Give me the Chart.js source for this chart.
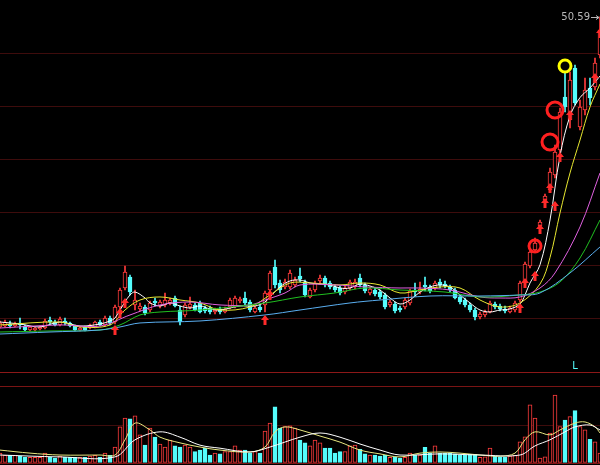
<!DOCTYPE html>
<html>
<head>
<meta charset="utf-8">
<script src="https://cdn.jsdelivr.net/npm/chart.js@4.4.0/dist/chart.umd.min.js"></script>
<style>
html, body { margin: 0; padding: 0; background: #000; }
#kline { display: block; }
</style>
</head>
<body>
<canvas id="kline" width="600" height="465"></canvas>
<script>
// PRICE DATA (one candle per day)
const openP = [
  11.83, 11.95, 12.2, 11.95, 12.33, 11.95, 11.45, 11.45, 11.58, 11.7,
  12.7, 12.45, 12.08, 12.58, 12.33, 11.95, 11.45, 11.83, 11.7, 11.83,
  12.45, 12.08, 12.95, 12.45, 14.33, 16.7, 18.08, 14.58, 14.08, 14.33,
  13.95, 15.08, 14.45, 14.58, 14.83, 15.45, 13.95, 13.33, 14.33, 14.58,
  14.83, 14.2, 14.2, 13.7, 14.08, 13.7, 14.33, 14.33, 15.08, 15.45,
  14.95, 13.7, 14.33, 14.58, 16.45, 19.33, 17.33, 16.83, 16.83, 17.08,
  18.2, 17.45, 15.58, 16.45, 17.58, 17.95, 17.33, 16.83, 16.7, 16.2,
  16.7, 16.83, 17.95, 17.08, 16.08, 16.45, 16.2, 15.83, 14.58, 14.7,
  14.2, 14.33, 14.83, 16.45, 16.2, 17.08, 16.83, 16.7, 17.45, 17.2,
  16.83, 16.45, 15.58, 15.2, 14.58, 13.95, 13.08, 13.33, 13.7, 14.7,
  14.45, 14.08, 13.7, 13.95, 15.2, 17.33, 19.45, 21.45, 24.45, 27.7,
  28.95, 30.83, 33.95, 40.58, 37.7, 44.2, 36.83, 38.95, 41.7, 41.83,
  45.83
];
const highP = [
  12.58, 12.7, 12.58, 12.45, 12.95, 12.08, 11.95, 11.83, 11.95, 12.83,
  13.08, 12.7, 13.08, 12.95, 12.45, 12.08, 11.83, 11.95, 12.2, 12.58,
  12.7, 13.2, 13.2, 14.58, 16.7, 19.45, 18.33, 16.45, 14.83, 14.58,
  15.08, 15.45, 15.2, 16.08, 15.45, 15.7, 14.45, 14.83, 15.58, 14.83,
  15.08, 14.45, 14.45, 14.2, 14.33, 14.33, 15.45, 15.7, 15.58, 16.2,
  15.2, 14.45, 14.58, 16.33, 18.83, 20.2, 17.7, 17.83, 18.95, 18.08,
  19.2, 17.7, 16.7, 17.58, 18.33, 18.2, 17.58, 17.08, 16.95, 16.95,
  17.7, 17.83, 18.45, 17.33, 16.83, 16.7, 16.45, 16.08, 15.2, 14.95,
  14.45, 15.45, 16.58, 17.33, 17.45, 18.08, 17.08, 17.58, 17.83, 17.58,
  17.08, 16.7, 15.83, 15.45, 14.83, 14.2, 13.7, 13.95, 15.08, 14.95,
  14.7, 14.45, 14.45, 15.08, 17.58, 19.95, 21.45, 22.95, 25.2, 28.45,
  31.7, 34.58, 39.2, 43.7, 43.7, 44.58, 40.2, 42.95, 42.95, 45.45,
  50.59
];
const lowP = [
  11.7, 11.83, 11.7, 11.83, 11.58, 11.33, 11.33, 11.33, 11.45, 11.58,
  12.2, 11.95, 11.95, 12.08, 11.83, 11.33, 11.33, 11.33, 11.58, 11.7,
  11.95, 11.95, 12.08, 12.2, 14.08, 16.45, 15.83, 13.95, 13.83, 13.33,
  13.7, 14.45, 14.2, 14.33, 14.58, 14.33, 12.08, 13.08, 14.08, 13.83,
  13.58, 13.58, 13.45, 13.45, 13.45, 13.58, 14.08, 14.2, 14.83, 14.58,
  13.7, 13.58, 13.7, 13.7, 16.08, 16.7, 16.08, 16.58, 16.58, 16.83,
  17.45, 15.58, 15.45, 16.2, 17.2, 16.83, 16.58, 16.2, 15.83, 15.95,
  16.45, 16.58, 16.83, 16.08, 15.83, 15.7, 15.33, 14.08, 14.33, 13.58,
  13.7, 14.08, 14.58, 15.7, 15.95, 16.33, 16.08, 16.45, 16.7, 16.7,
  16.2, 15.33, 14.7, 14.33, 13.7, 12.7, 12.83, 13.08, 13.58, 14.08,
  13.83, 13.58, 13.58, 13.7, 14.95, 17.08, 19.2, 21.2, 24.2, 27.45,
  28.7, 30.45, 33.33, 38.7, 36.7, 39.58, 36.45, 38.33, 39.58, 41.45,
  45.45
];
const closeP = [
  12.33, 12.45, 11.95, 12.2, 12.08, 11.45, 11.83, 11.7, 11.83, 12.58,
  12.45, 12.08, 12.83, 12.33, 11.95, 11.45, 11.7, 11.45, 12.08, 12.45,
  12.08, 12.95, 12.33, 14.33, 16.45, 18.7, 16.2, 15.2, 14.45, 13.58,
  14.83, 14.83, 14.95, 15.2, 15.2, 14.45, 12.45, 14.58, 14.7, 13.95,
  13.7, 13.83, 13.7, 13.95, 13.7, 14.08, 15.2, 15.45, 15.33, 14.83,
  13.95, 14.2, 13.95, 16.08, 18.58, 17.08, 16.45, 17.45, 18.58, 17.7,
  17.83, 15.83, 16.45, 17.33, 17.95, 17.08, 16.83, 16.45, 16.08, 16.7,
  17.45, 17.45, 17.08, 16.33, 16.58, 15.95, 15.58, 14.33, 14.95, 13.83,
  13.95, 15.2, 16.33, 16.2, 16.58, 16.83, 16.33, 17.33, 17.08, 16.95,
  16.45, 15.45, 14.95, 14.58, 13.95, 13.08, 13.45, 13.7, 14.83, 14.33,
  14.08, 13.83, 14.2, 14.83, 17.33, 19.7, 21.2, 22.33, 24.95, 28.2,
  31.2, 33.7, 38.7, 39.33, 42.7, 39.83, 39.33, 41.45, 40.45, 44.83,
  48.95
];
// VOLUME (one unit = one volume grid step)
const volume = [
  0.26, 0.2, 0.2, 0.2, 0.18, 0.15, 0.15, 0.15, 0.15, 0.26,
  0.15, 0.13, 0.18, 0.15, 0.15, 0.15, 0.15, 0.15, 0.18, 0.2,
  0.15, 0.26, 0.2, 0.42, 0.95, 1.18, 1.16, 1.24, 0.74, 0.47,
  0.92, 0.68, 0.5, 0.42, 0.6, 0.45, 0.42, 0.47, 0.42, 0.3,
  0.34, 0.39, 0.21, 0.26, 0.24, 0.3, 0.3, 0.45, 0.34, 0.34,
  0.27, 0.3, 0.26, 0.84, 1.05, 1.48, 0.92, 0.96, 0.98, 0.92,
  0.6, 0.53, 0.45, 0.6, 0.53, 0.39, 0.39, 0.26, 0.3, 0.3,
  0.45, 0.47, 0.36, 0.24, 0.21, 0.21, 0.18, 0.21, 0.15, 0.15,
  0.12, 0.15, 0.26, 0.21, 0.21, 0.41, 0.26, 0.45, 0.26, 0.26,
  0.26, 0.24, 0.21, 0.21, 0.23, 0.23, 0.15, 0.16, 0.39, 0.18,
  0.16, 0.15, 0.18, 0.2, 0.56, 0.69, 1.53, 1.18, 0.13, 0.16,
  0.79, 1.79, 0.96, 1.13, 1.22, 1.38, 0.96, 0.87, 0.62, 0.56,
  0.26
];

// MOVING AVERAGES [day, value]
const ma5 = [[0,12.45],[4,12.2],[8,11.83],[12,12.45],[16,11.95],[20,12.2],[22,12.58],[23,12.95],[24,13.95],[25,14.95],[26,15.83],[27,16.2],[29,15.45],[30,14.83],[32,14.45],[34,14.83],[36,14.45],[38,14.2],[40,14.45],[42,14.08],[44,13.95],[48,14.45],[51,14.45],[53,14.95],[54,15.58],[56,16.83],[58,17.58],[60,17.7],[62,17.33],[64,17.2],[66,17.08],[68,16.7],[70,16.7],[72,17.2],[74,16.95],[76,16.45],[78,15.45],[80,14.7],[82,15.2],[84,16.2],[86,16.83],[88,17.08],[90,16.83],[92,15.83],[94,14.83],[96,13.95],[98,13.7],[100,13.95],[102,14.08],[104,14.7],[105,15.83],[106,17.33],[108,19.6],[110,25.2],[112,33.2],[114,38.2],[116,40.5],[118,41.7],[120,43.2]];
const ma10 = [[0,12.08],[12,12.45],[16,11.83],[22,12.08],[25,13.95],[28,15.2],[32,15.58],[36,15.2],[40,14.83],[44,13.95],[50,14.33],[54,15.83],[58,17.33],[62,17.33],[68,17.08],[72,17.33],[76,17.08],[80,16.08],[84,16.45],[88,16.83],[92,16.7],[96,15.2],[100,14.33],[104,14.83],[108,17.2],[110,20.5],[112,26.08],[114,31.08],[116,35.2],[118,39.33],[120,42.2]];
const ma20 = [[0,11.7],[12,12.08],[20,11.95],[26,13.33],[32,14.58],[38,14.95],[44,14.58],[50,14.58],[53,15.2],[57,16.08],[60,17.08],[67,17.08],[73,16.83],[80,16.7],[84,16.7],[90,16.45],[96,15.58],[100,15.45],[104,15.58],[108,16.7],[111,18.58],[116,24.33],[120,31.08]];
const ma30 = [[0,11.2],[10,11.33],[20,11.45],[24,12.08],[28,13.33],[32,13.7],[40,13.95],[53,14.83],[60,15.58],[67,16.08],[73,16.7],[80,16.45],[89,16.2],[96,15.58],[104,15.83],[108,16.2],[112,17.45],[116,20.45],[120,25.2]];
const ma60 = [[0,10.95],[10,11.2],[20,11.45],[24,11.83],[28,12.33],[40,12.58],[53,13.33],[60,13.95],[70,14.83],[76,15.2],[86,15.7],[96,15.7],[104,15.83],[108,16.08],[114,18.58],[120,21.83]];
const volMa5 = [[0,0.34],[6,0.26],[12,0.21],[20,0.21],[23,0.21],[25,0.61],[27,1.05],[30,0.87],[32,0.68],[36,0.53],[40,0.42],[44,0.34],[50,0.29],[53,0.42],[55,0.82],[57,0.95],[60,0.87],[64,0.71],[68,0.55],[72,0.34],[76,0.24],[80,0.16],[84,0.26],[88,0.29],[92,0.26],[96,0.21],[100,0.18],[103,0.26],[105,0.61],[107,0.82],[110,0.74],[112,0.87],[115,1.05],[117,1.08],[119,0.95],[120,0.79]];
const volMa10 = [[0,0.21],[12,0.16],[23,0.16],[27,0.61],[32,0.82],[36,0.68],[40,0.47],[44,0.39],[50,0.29],[54,0.42],[60,0.68],[64,0.79],[68,0.68],[72,0.5],[76,0.34],[80,0.21],[88,0.24],[96,0.21],[104,0.21],[107,0.45],[110,0.61],[113,0.82],[115,0.95],[118,1.0],[120,0.87]];

// SIGNALS
const arrowDay = [23, 24, 25, 53, 54, 104, 105, 107, 108, 109, 110, 111, 112, 114, 119, 120];
const arrowVal = [11.45, 13.58, 14.83, 12.7, 15.83, 14.2, 17.33, 18.2, 24.08, 27.33, 29.2, 26.95, 33.08, 38.33, 42.95, 48.58];
const redRingDay = [107, 110, 111];
const redRingVal = [21.95, 34.95, 38.95];
const yellowRingDay = [113];
const yellowRingVal = [44.45];

// GRID
const priceGrid = [46.06, 39.41, 32.77, 26.13, 19.49, 12.84];
const priceDivider = 6.2;
const volumeGrid = [0, 1, 2];

const UP = '#ff3c3c';
const DOWN = '#54fcfc';

const days = closeP.map((_, i) => i);
const isUp = days.map(i => closeP[i] >= openP[i]);
const toPoints = arr => arr.map(p => ({ x: p[0], y: p[1] }));

function makeArrow(color) {
  const c = document.createElement('canvas');
  c.width = 8; c.height = 10;
  const g = c.getContext('2d');
  g.fillStyle = color;
  g.beginPath();
  g.moveTo(4, 0); g.lineTo(8, 5); g.lineTo(5.5, 5); g.lineTo(5.5, 10);
  g.lineTo(2.5, 10); g.lineTo(2.5, 5); g.lineTo(0, 5);
  g.closePath();
  g.fill();
  return c;
}

function maLine(points, color, axis) {
  return {
    type: 'line', yAxisID: axis || 'y',
    data: toPoints(points),
    borderColor: color, borderWidth: 1,
    pointRadius: 0, tension: 0.35, order: 1
  };
}

// max price label and the "L" mark
const labelPlugin = {
  id: 'labelPlugin',
  afterDatasetsDraw(chart) {
    const { ctx, scales } = chart;
    const top = Math.max(...highP);
    const ti = highP.indexOf(top);
    const px = scales.x.getPixelForValue(ti);
    const py = Math.round(scales.y.getPixelForValue(top)) + 0.5;
    ctx.save();
    ctx.font = '10px "DejaVu Sans", sans-serif';
    ctx.fillStyle = '#b8b8b8';
    ctx.textAlign = 'right';
    ctx.textBaseline = 'middle';
    ctx.fillText(top.toFixed(2), px - 10, py);
    ctx.strokeStyle = '#b8b8b8';
    ctx.lineWidth = 1;
    ctx.beginPath();
    ctx.moveTo(px - 9, py); ctx.lineTo(px - 1, py);
    ctx.moveTo(px - 4, py - 2); ctx.lineTo(px - 1, py); ctx.lineTo(px - 4, py + 2);
    ctx.stroke();

    ctx.fillStyle = DOWN;
    ctx.textAlign = 'center';
    ctx.fillText('L', scales.x.getPixelForValue(115), scales.y.getPixelForValue(6.95));
    ctx.restore();
  }
};

const hiddenAxis = {
  ticks: { display: false },
  border: { display: false },
  afterFit: s => { s.width = 0; }
};

new Chart(document.getElementById('kline'), {
  type: 'bar',
  data: {
    datasets: [
      {
        label: 'wick', yAxisID: 'y',
        data: days.map(i => ({ x: i, y: [lowP[i], highP[i]] })),
        backgroundColor: days.map(i => isUp[i] ? UP : DOWN),
        barThickness: 1, grouped: false, order: 6
      },
      {
        label: 'body', yAxisID: 'y',
        data: days.map(i => ({ x: i, y: [openP[i], closeP[i]] })),
        backgroundColor: days.map(i => isUp[i] ? '#000' : DOWN),
        borderColor: days.map(i => isUp[i] ? UP : DOWN),
        borderWidth: 1, borderSkipped: false, minBarLength: 1,
        barThickness: 4, grouped: false, order: 5
      },
      {
        label: 'volume', yAxisID: 'yv',
        data: days.map(i => ({ x: i, y: volume[i] })),
        backgroundColor: days.map(i => isUp[i] ? '#000' : DOWN),
        borderColor: days.map(i => isUp[i] ? UP : DOWN),
        borderWidth: 1, borderSkipped: false,
        barThickness: 4, grouped: false, order: 5
      },
      maLine(ma60, '#5aaef0'),
      maLine(ma30, '#20c020'),
      maLine(ma20, '#e060e0'),
      maLine(ma10, '#e8e830'),
      maLine(ma5, '#ffffff'),
      maLine(volMa10, '#ffffff', 'yv'),
      maLine(volMa5, '#e8e880', 'yv'),
      {
        type: 'line', showLine: false, yAxisID: 'y',
        data: arrowDay.map((d, k) => ({ x: d, y: arrowVal[k] })),
        pointStyle: makeArrow('#ff2a2a'), pointRadius: 5, order: 0
      },
      {
        type: 'line', showLine: false, yAxisID: 'y',
        data: redRingDay.map((d, k) => ({ x: d, y: redRingVal[k] })),
        pointStyle: 'circle', pointRadius: [6, 8, 8], pointBorderWidth: 3,
        pointBorderColor: '#ff2020', pointBackgroundColor: 'rgba(0,0,0,0)', order: 0
      },
      {
        type: 'line', showLine: false, yAxisID: 'y',
        data: yellowRingDay.map((d, k) => ({ x: d, y: yellowRingVal[k] })),
        pointStyle: 'circle', pointRadius: 6, pointBorderWidth: 3,
        pointBorderColor: '#ffff00', pointBackgroundColor: 'rgba(0,0,0,0)', order: 0
      }
    ]
  },
  options: {
    responsive: false,
    animation: false,
    events: [],
    layout: { padding: 0, autoPadding: false },
    plugins: { legend: { display: false }, tooltip: { enabled: false } },
    scales: {
      x: { type: 'linear', min: 0, max: 120, offset: false, display: false },
      y: {
        ...hiddenAxis, position: 'left', min: -5.425, max: 52.7,
        afterBuildTicks: s => { s.ticks = priceGrid.concat([priceDivider]).map(v => ({ value: v })); },
        grid: {
          drawTicks: false,
          color: c => c.tick && c.tick.value === priceDivider ? '#8c1818' : '#3e0c0c'
        }
      },
      yv: {
        ...hiddenAxis, position: 'right', min: -0.0526, max: 12.184,
        afterBuildTicks: s => { s.ticks = volumeGrid.map(v => ({ value: v })); },
        grid: {
          drawTicks: false,
          color: c => c.tick && c.tick.value === 1 ? '#3e0c0c' : '#7a1414'
        }
      }
    }
  },
  plugins: [labelPlugin]
});
</script>
</body>
</html>
